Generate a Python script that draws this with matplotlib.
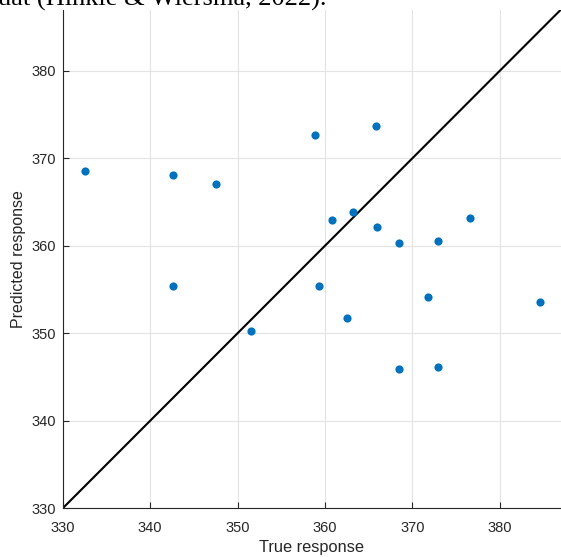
import numpy as np
import matplotlib.pyplot as plt

# true vs predicted values
true_resp = [332.6, 342.6, 347.5, 342.6, 351.5, 358.9, 365.8, 360.8, 363.2, 365.9,
             368.5, 372.9, 376.6, 359.3, 371.8, 384.6, 362.5, 368.5, 372.9]
pred_resp = [368.5, 368.1, 367.1, 355.4, 350.3, 372.7, 373.7, 363.0, 363.9, 362.1,
             360.3, 360.5, 363.2, 355.4, 354.1, 353.6, 351.8, 345.9, 346.1]
lims = [330, 387]
ticks = [330, 340, 350, 360, 370, 380]

plt.rcParams['font.family'] = ['Liberation Sans', 'DejaVu Sans']

fig = plt.figure(figsize=(5.61, 5.57), dpi=100)
ax = fig.add_axes([62.7/561, 48.7/557, (561-62.7)/561, 498.8/557])

ax.plot(true_resp, pred_resp, 'o', color='#0072BD', ms=5.9, mec='none', zorder=3)
ax.plot(lims, lims, color='k', lw=1.5, zorder=2)

ax.set_xlim(lims)
ax.set_ylim(lims)
ax.set_xticks(ticks)
ax.set_yticks(ticks)
ax.grid(True, color='#e3e3e3', lw=0.8)
ax.set_axisbelow(True)
ax.tick_params(direction='in', length=4, width=0.8, color='#262626',
               labelcolor='#262626', labelsize=10.5)
ax.tick_params(axis='x', pad=9)
ax.tick_params(axis='y', pad=5)
for s in ['top', 'right']:
    ax.spines[s].set_visible(False)
for s in ['left', 'bottom']:
    ax.spines[s].set_color('#262626')
    ax.spines[s].set_linewidth(0.8)

ax.set_xlabel('True response', fontsize=11.8, color='#262626', labelpad=4)
ax.set_ylabel('Predicted response', fontsize=11.5, color='#262626', labelpad=4)

# leftover text from the page above the figure
fig.text(-0.003, 1 - 6/557, 'uat (Hinkle & Wiersma, 2022).', family='Liberation Serif',
         fontsize=19, va='baseline', ha='left', color='k')

fig.savefig('out.png', dpi=100)
